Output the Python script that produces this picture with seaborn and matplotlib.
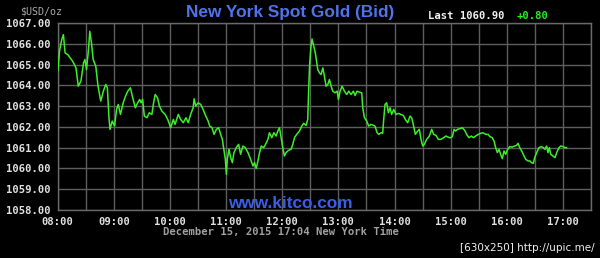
import matplotlib
matplotlib.use("Agg")
import matplotlib.pyplot as plt
import seaborn as sns
import pandas as pd

# minutes after 08:00 New York time
minutes = [0, 1.8, 4.2, 6, 7.8, 10.6, 15.9, 19.4, 21.9, 24.7, 27.5, 29, 30.7, 32.8, 34.2, 36,
           37.8, 40.6, 43, 45.9, 48.7, 51.2, 53, 54.7, 55.8, 58.2, 60.7, 62.8, 64.6, 67, 69.9,
           72.4, 74.8, 77.6, 80.1, 82.9, 85.4, 87.5, 89, 90.7, 92.5, 95.3, 97.8, 100.6, 102.4,
           104.1, 106.6, 108.7, 111.2, 114.7, 117.5, 120.7, 123.5, 125.3, 128.8, 131.3, 134.1,
           137, 139.4, 142, 144.7, 145.7, 147.5, 150, 152.8, 155.3, 158.2, 160.7, 162.4, 164.9,
           167, 169.5, 172, 174.1, 175.9, 177.7, 179.1, 180.2, 181.2, 183, 184.8, 186.6, 188.3,
           190.8, 193.3, 195.4, 197.9, 200.4, 203.3, 206.1, 208.6, 210.4, 212.1, 213.9, 215.7,
           217.5, 220, 222.1, 224.6, 226.3, 228.8, 230.9, 233.4, 235.2, 237, 238.7, 240.5, 242.3,
           244, 246.6, 249.4, 251.2, 253, 255.4, 258.3, 260.8, 262.9, 265.4, 267.2, 268.3, 269.3,
           270.7, 271.8, 273.6, 275.3, 277.9, 279.7, 281.5, 283.3, 285, 286.8, 288.6, 290.4,
           292.2, 293.9, 296.4, 298.6, 300, 301.8, 303.9, 306.4, 308.9, 311, 313.5, 316, 317.8,
           319.9, 322.4, 324.9, 326, 327.8, 330.2, 332.4, 334.9, 337.4, 339.1, 341.3, 343.1,
           345.6, 347.3, 348.4, 349.8, 351.6, 353.4, 355.2, 356.9, 359.1, 361.6, 364, 366.9,
           369.4, 371.5, 374, 376.5, 378.3, 380.4, 382.2, 384.7, 386.5, 388.3, 390.1, 391.8,
           394.3, 397.2, 399.7, 401.8, 404.3, 406.8, 409.6, 412.5, 414.9, 418.5, 420, 421.8,
           423.6, 425.3, 427.1, 429.6, 432.5, 435, 437.1, 439.6, 442.1, 444.2, 446.7, 449.6,
           452.1, 454.6, 457.4, 459.9, 462, 464.5, 466.3, 468.1, 469.9, 471.7, 473.4, 475.2,
           477, 478.8, 480.6, 483.1, 485.9, 488.4, 490.5, 492, 493.8, 495.9, 498.4, 500.2,
           502.7, 504.8, 506.2, 508.4, 509.8, 511.9, 514.4, 516.9, 519.1, 520.8, 522.6, 524,
           525.5, 526.9, 529.4, 531.5, 533.3, 535.8, 537.6, 540.1, 542.2, 544]

bid = [1064.68, 1065.64, 1066.2, 1066.44, 1065.56, 1065.48, 1065.16, 1064.84, 1063.96, 1064.2,
       1065.08, 1065.24, 1064.76, 1065.72, 1066.6, 1066.04, 1065.24, 1064.92, 1063.96, 1063.24,
       1063.72, 1064.04, 1063.88, 1062.44, 1061.88, 1062.28, 1062.04, 1062.84, 1063.08, 1062.6,
       1063.16, 1063.48, 1063.72, 1063.88, 1063.4, 1062.92, 1063.16, 1063.32, 1063.16, 1063.32,
       1062.52, 1062.44, 1062.68, 1062.6, 1063.16, 1063.56, 1063.4, 1063.0, 1062.76, 1062.6,
       1062.36, 1061.96, 1062.36, 1062.12, 1062.6, 1062.36, 1062.2, 1062.44, 1062.2, 1062.6,
       1062.92, 1063.35, 1063.0, 1063.16, 1063.08, 1062.84, 1062.52, 1062.28, 1062.04, 1061.96,
       1061.64, 1061.88, 1061.96, 1061.64, 1061.4, 1060.84, 1060.44, 1059.72, 1060.44, 1060.92,
       1060.52, 1060.28, 1060.76, 1061.0, 1061.16, 1060.68, 1061.08, 1061.0, 1060.76, 1060.44,
       1060.12, 1060.28, 1060.0, 1060.36, 1060.76, 1061.08, 1061.0, 1061.16, 1061.4, 1061.72,
       1061.48, 1061.72, 1061.56, 1061.8, 1061.96, 1061.48, 1061.0, 1060.6, 1060.76, 1060.87,
       1060.92, 1061.16, 1061.48, 1061.64, 1061.8, 1062.04, 1062.17, 1062.07, 1062.36, 1063.96,
       1065.08, 1065.88, 1066.23, 1065.88, 1065.56, 1064.76, 1064.6, 1064.52, 1064.84, 1064.44,
       1063.96, 1064.04, 1064.28, 1063.96, 1063.72, 1063.64, 1063.72, 1063.32, 1063.72, 1063.96,
       1063.72, 1063.56, 1063.72, 1063.56, 1063.72, 1063.51, 1063.72, 1063.67, 1063.64, 1062.92,
       1062.44, 1062.28, 1062.04, 1062.12, 1062.07, 1062.04, 1061.72, 1061.64, 1061.72, 1061.69,
       1062.36, 1063.08, 1063.16, 1062.68, 1062.92, 1062.6, 1062.84, 1062.6, 1062.65, 1062.6,
       1062.55, 1062.36, 1062.2, 1062.52, 1062.44, 1062.04, 1061.64, 1061.8, 1061.88, 1061.4,
       1061.08, 1061.16, 1061.4, 1061.56, 1061.88, 1061.64, 1061.59, 1061.4, 1061.4, 1061.48,
       1061.56, 1061.48, 1061.48, 1061.53, 1061.88, 1061.8, 1061.88, 1061.91, 1061.96, 1061.83,
       1061.64, 1061.48, 1061.56, 1061.48, 1061.56, 1061.64, 1061.69, 1061.72, 1061.64, 1061.64,
       1061.53, 1061.48, 1061.32, 1061.0, 1060.76, 1060.92, 1060.68, 1060.47, 1060.84, 1060.68,
       1060.89, 1061.05, 1061.03, 1061.08, 1061.11, 1061.21, 1061.0, 1060.84, 1060.6, 1060.44,
       1060.36, 1060.36, 1060.28, 1060.25, 1060.52, 1060.76, 1061.0, 1061.05, 1061.0, 1060.92,
       1061.08, 1060.76, 1061.0, 1060.68, 1060.6, 1060.52, 1060.76, 1061.0, 1061.08, 1061.05,
       1061.0, 1061.0]

hour_labels = ["08:00", "09:00", "10:00", "11:00", "12:00", "13:00", "14:00", "15:00", "16:00", "17:00"]
price_ticks = [1058, 1059, 1060, 1061, 1062, 1063, 1064, 1065, 1066, 1067]

title_text = "New York Spot Gold (Bid)"
last_text = "Last 1060.90"
change_text = "+0.80"
unit_text = "$USD/oz"
date_text = "December 15, 2015 17:04 New York Time"
site_text = "www.kitco.com"
stamp_text = "[630x250] http://upic.me/"

df = pd.DataFrame({"minute": minutes, "bid": bid})

sns.set_theme(style="dark")
W, H = 600, 258
fig = plt.figure(figsize=(W / 100, H / 100), dpi=100, facecolor="black")
ax = fig.add_axes([57.8 / W, 1 - 210 / H, (591 - 57.8) / W, (210 - 23) / H])
ax.set_facecolor("black")

sns.lineplot(data=df, x="minute", y="bid", ax=ax, color="#3cee28", linewidth=1.1,
             estimator=None, sort=False, zorder=3)

ax.set_xlim(0, 570)
ax.set_ylim(1058, 1067)
ax.set_xticks([i * 60 for i in range(len(hour_labels))])
ax.set_xticks([30 + i * 60 for i in range(len(hour_labels))], minor=True)
ax.set_xticklabels(hour_labels)
ax.set_yticks(price_ticks)
ax.set_yticklabels([f"{p:.2f}" for p in price_ticks])
ax.grid(True, which="both", color="#5e5e5e", linewidth=1.0)
ax.set_xlabel("")
ax.set_ylabel("")
for s in ax.spines.values():
    s.set_visible(True)
    s.set_color("#6a6a6a")
    s.set_linewidth(1.0)

mono = "DejaVu Sans Mono"
ax.tick_params(axis="both", which="both", length=0, labelsize=7.6, labelcolor="#e0e0e0")
ax.tick_params(axis="y", pad=5)
ax.tick_params(axis="x", pad=5)
for lab in ax.get_xticklabels() + ax.get_yticklabels():
    lab.set_fontfamily(mono)
    lab.set_fontweight("bold")


def fx(x):
    return x / W


def fy(y):
    return 1 - y / H


fig.text(fx(290), fy(12), title_text, color="#4f73ea", fontsize=12.4, fontweight="bold",
         family="Liberation Sans", ha="center", va="center")
fig.text(fx(428), fy(16), last_text, color="#f0f0f0", fontsize=7.6, fontweight="bold",
         family=mono, ha="left", va="center")
fig.text(fx(517), fy(16), change_text, color="#22ee22", fontsize=7.6, fontweight="bold",
         family=mono, ha="left", va="center")
fig.text(fx(20), fy(11), unit_text, color="#a8a8a8", fontsize=7.2,
         family=mono, ha="left", va="center")
fig.text(fx(281), fy(231.5), date_text, color="#a0a0a0", fontsize=7.6, fontweight="bold",
         family=mono, ha="center", va="center")
fig.text(fx(290), fy(203), site_text, color="#3a5ee8", fontsize=12.4, fontweight="bold",
         family="Liberation Sans", ha="center", va="center", zorder=5)
fig.text(fx(595), fy(248), stamp_text, color="#f0f0f0", fontsize=7.5,
         family="DejaVu Sans", ha="right", va="center")

fig.savefig("out.png", dpi=100, facecolor="black")
